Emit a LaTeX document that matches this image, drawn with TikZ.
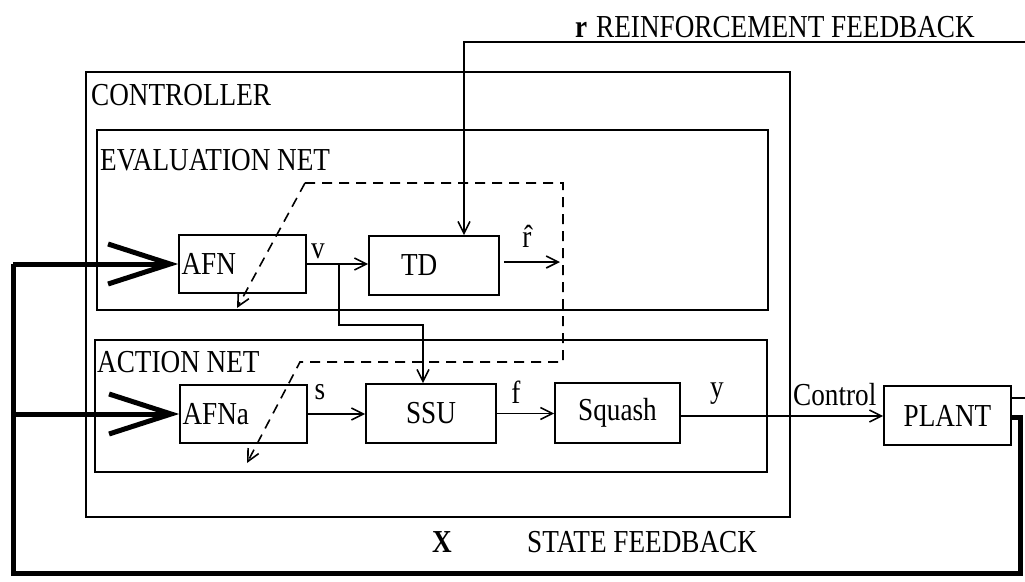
\documentclass[tikz,border=0pt]{standalone}
\usepackage{fontspec}
\setmainfont{Liberation Serif}[FakeStretch=0.85]
\usetikzlibrary{arrows.meta}
\begin{document}
\begin{tikzpicture}[x=1pt,y=-1pt,
  txt/.style={font=\fontsize{32}{34}\selectfont, inner sep=0pt},
  blk/.style={draw, line width=1.6pt, rectangle, inner sep=0pt, font=\fontsize{32}{34}\selectfont},
  frame/.style={draw, line width=1.6pt},
  conn/.style={line width=1.6pt},
  arr/.style={line width=1.6pt, -{Straight Barb[length=12pt,width=12pt,line width=1.6pt]}},
  dsh/.style={line width=1.6pt, dash pattern=on 10pt off 7pt},
  heavy/.style={line width=5pt, line join=miter},
  heavyarr/.style={line width=5pt, -{Straight Barb[length=62pt,width=40pt,line width=5pt]}}
]
\useasboundingbox (0,0) rectangle (1025,581);

% containers
\draw[frame] (86,72) rectangle (790,517);
\draw[frame] (97,130) rectangle (768,310);
\draw[frame] (95,340) rectangle (767,472);
\node[txt, anchor=base west] (tctrl) at (91,105) {CONTROLLER};
\node[txt, anchor=base west] (teval) at (100,170) {EVALUATION NET};
\node[txt, anchor=base west] (tact) at (97,372) {ACTION NET};

% blocks
\node[blk, minimum width=127pt, minimum height=58pt, text width=122pt, align=left] (afn) at (242.5,264) {AFN};
\node[blk, minimum width=130pt, minimum height=59pt, text width=130pt, align=left] (td) at (434,265.5) {\hspace*{32pt}TD};
\node[blk, minimum width=127pt, minimum height=58pt, text width=122pt, align=left] (afna) at (243.5,414) {AFNa};
\node[blk, minimum width=130pt, minimum height=59pt] (ssu) at (431,413.5) {SSU};
\node[blk, minimum width=125pt, minimum height=60pt] (squash) at (617.5,413) {Squash};
\node[blk, minimum width=127pt, minimum height=59pt] (plant) at (947.5,415.5) {PLANT};

% top and bottom labels
\node[txt, anchor=base west] (rlab) at (575,37) {\textbf{r}};
\node[txt, anchor=base west] (rtext) at (596,37) {REINFORCEMENT FEEDBACK};
\node[txt, anchor=base west] (xlab) at (432,552) {\textbf{X}};
\node[txt, anchor=base west] (xtext) at (527,552) {STATE FEEDBACK};

% signal labels
\node[txt] (lv) at (318,251) {v};
\node[txt] (lr) at (527,236) {\^{r}};
\node[txt] (ls) at (320,392) {s};
\node[txt] (lf) at (516,392) {f};
\node[txt] (ly) at (717,394) {y};
\node[txt, anchor=base west] (lc) at (793,405) {Control};

% coordinates
\coordinate (rin) at (1025,42);
\coordinate (rx) at (464,0);
\coordinate (vb) at (339,264);
\coordinate (vc) at (423,325);
\coordinate (rh) at (560,262);
\coordinate (pout) at (1025,398);
\coordinate (pr) at (1020,417);
\coordinate (br) at (1020,573);
\coordinate (bl) at (13,573);
\coordinate (tl) at (13,264);
\coordinate (ml) at (13,414);
\coordinate (d1) at (563,183);
\coordinate (d2) at (305,183);
\coordinate (d3) at (237,308);
\coordinate (d4) at (563,362);
\coordinate (d5) at (300,362);
\coordinate (d6) at (247,463);

% connectors
\draw[arr] (rin) -| (td.north -| rx);
\draw[arr] (afn.east) -- (td.west |- afn.east);
\draw[arr] (vb) |- (vc) -- (vc |- ssu.north);
\draw[arr] ([xshift=4pt]td.east |- rh) -- (rh);
\draw[arr] (afna.east) -- (ssu.west |- afna.east);
\draw[arr] (ssu.east) -- (squash.west |- ssu.east);
\draw[arr] ([yshift=-3pt]squash.east) -- ([yshift=-3pt]plant.west |- squash.east);
\draw[conn] (plant.east |- pout) -- (pout);

% dashed weight-update paths
\draw[dsh, -{Straight Barb[length=12pt,width=12pt,line width=1.6pt]}] (d2) -- (d1) -- (d4) -- (d5) -- (d6);
\draw[dsh, -{Straight Barb[length=12pt,width=12pt,line width=1.6pt]}] (d2) -- (d3);

% state feedback
\draw[heavy] (plant.east |- pr) -- (pr) -- (br) -- (bl) -- (tl);
\draw[heavyarr] (tl) -- (afn.west);
\draw[heavyarr] (ml) -- (afna.west);
\end{tikzpicture}
\end{document}
